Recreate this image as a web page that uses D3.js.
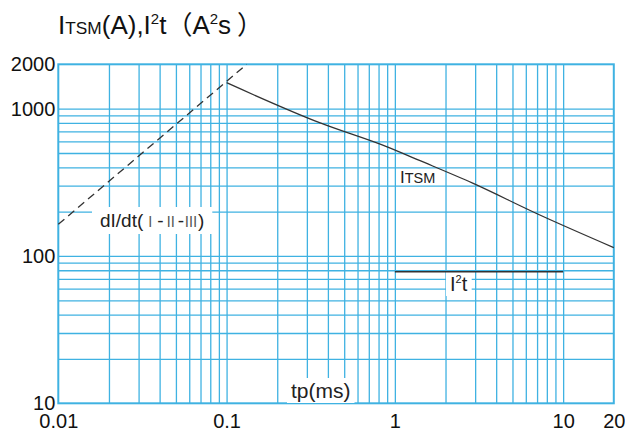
<!DOCTYPE html>
<html>
<head>
<meta charset="utf-8">
<title>ITSM / I2t vs tp</title>
<script src="https://d3js.org/d3.v7.min.js"></script>
<style>
body { margin: 0; background: #fff; }
svg { display: block; font-family: "Liberation Sans", Arial, sans-serif; }
.grid line { stroke: #3fb2e2; stroke-width: 1.3; }
.grid path { display: none; }
.tick-lbl text { fill: #111; font-size: 20px; }
.tick-lbl path { display: none; }
</style>
</head>
<body>
<div id="container"></div>
<script>

//--------------------------- DATA ------------------------------//
var xTicks = [0.01, 0.1, 1, 10, 20];
var yTicks = [10, 100, 1000, 2000];
var xGrid = [0.02, 0.03, 0.04, 0.05, 0.06, 0.07, 0.08, 0.09, 0.1,
             0.2, 0.3, 0.4, 0.5, 0.6, 0.7, 0.8, 0.9, 1,
             2, 3, 4, 5, 6, 7, 8, 9, 10];
var yGrid = [20, 30, 40, 50, 60, 70, 80, 90, 100,
             200, 300, 400, 500, 600, 700, 800, 900, 1000];

// ITSM (A) against tp (ms)
var itsmT = [0.1, 0.36, 0.9, 1.4, 2.9, 6.9, 20];
var itsmA = [1500, 800, 550, 445, 312, 195, 114];
// dI/dt limit (dashed)
var didtT = [0.01, 0.1316];
var didtA = [164, 2000];
// I2t (A2s)
var i2tT = [1, 10];
var i2tA = [78, 78];

//------------------------- SCALES ------------------------------//
var W = 625, H = 430;
var pLeft = 58.3, pRight = 613.8, pTop = 64.3, pBottom = 403.3;

var x = d3.scaleLog().domain([0.01, 20]).range([pLeft, pRight]);
var y = d3.scaleLog().domain([10, 2000]).range([pBottom, pTop]);

var svg = d3.select("#container").append("svg")
    .attr("width", W)
    .attr("height", H);

//-------------------------- GRID -------------------------------//
svg.append("g")
    .attr("class", "grid")
    .attr("transform", "translate(0," + pBottom + ")")
    .call(d3.axisBottom(x).tickValues(xGrid).tickSize(-(pBottom - pTop)).tickFormat(""));

svg.append("g")
    .attr("class", "grid")
    .attr("transform", "translate(" + pLeft + ",0)")
    .call(d3.axisLeft(y).tickValues(yGrid).tickSize(-(pRight - pLeft)).tickFormat(""));

// frame
svg.append("rect")
    .attr("x", x(0.01)).attr("y", y(2000))
    .attr("width", x(20) - x(0.01)).attr("height", y(10) - y(2000))
    .attr("fill", "none")
    .attr("stroke", "#3fb2e2")
    .attr("stroke-width", 2);

//-------------------------- AXES -------------------------------//
var fmt = function(d) { return String(d); };

svg.append("g")
    .attr("class", "tick-lbl")
    .attr("transform", "translate(0," + pBottom + ")")
    .call(d3.axisBottom(x).tickValues(xTicks).tickSize(0).tickPadding(11).tickFormat(fmt));

svg.append("g")
    .attr("class", "tick-lbl")
    .attr("transform", "translate(" + pLeft + ",0)")
    .call(d3.axisLeft(y).tickValues(yTicks).tickSize(0).tickPadding(3).tickFormat(fmt));

svg.selectAll(".tick-lbl").attr("font-family", null).attr("font-size", null);

//------------------------- LABELS ------------------------------//
var labels = svg.append("g");

function boxed(txt, pad) {
    var b = txt.node().getBBox();
    labels.insert("rect", function() { return txt.node(); })
        .attr("x", b.x - pad[0]).attr("y", b.y - pad[1])
        .attr("width", b.width + pad[0] * 2).attr("height", b.height + pad[1] * 2)
        .attr("fill", "#fff");
}

// dI/dt label
var t1 = labels.append("text")
    .attr("x", 100).attr("y", 227)
    .attr("font-size", 19).attr("fill", "#222");
t1.append("tspan").text("dI/dt(");
t1.append("tspan").attr("font-family", "Noto Sans CJK SC").attr("font-size", 14).attr("fill", "#555").text("Ⅰ");
t1.append("tspan").text("-");
t1.append("tspan").attr("font-family", "Noto Sans CJK SC").attr("font-size", 14).attr("fill", "#555").text("Ⅱ");
t1.append("tspan").text("-");
t1.append("tspan").attr("font-family", "Noto Sans CJK SC").attr("font-size", 14).attr("fill", "#555").text("Ⅲ");
t1.append("tspan").text(")");
boxed(t1, [8, 3]);

// tp(ms)
var t2 = labels.append("text")
    .attr("x", 291).attr("y", 398)
    .attr("font-size", 21).attr("fill", "#222")
    .text("tp(ms)");
boxed(t2, [4, 1]);

// I2t
var t3 = labels.append("text")
    .attr("x", 450).attr("y", 291)
    .attr("font-size", 20).attr("fill", "#222");
t3.append("tspan").text("I");
t3.append("tspan").attr("font-size", 11).attr("dy", -8).text("2");
t3.append("tspan").attr("dy", 8).text("t");
boxed(t3, [4, 1]);

// ITSM
var t4 = labels.append("text")
    .attr("x", 400).attr("y", 183)
    .attr("font-size", 17).attr("fill", "#222");
t4.append("tspan").text("I");
t4.append("tspan").attr("font-size", 14.5).text("TSM");

//------------------------- CURVES ------------------------------//
var line = d3.line()
    .curve(d3.curveMonotoneX)
    .x(function(d) { return x(d[0]); })
    .y(function(d) { return y(d[1]); });

svg.append("path")
    .datum(d3.zip(itsmT, itsmA))
    .attr("d", line)
    .attr("fill", "none")
    .attr("stroke", "#333")
    .attr("stroke-width", 1.3);

svg.append("path")
    .datum(d3.zip(didtT, didtA))
    .attr("d", line)
    .attr("fill", "none")
    .attr("stroke", "#333")
    .attr("stroke-width", 1.3)
    .attr("stroke-dasharray", "8,5");

svg.append("path")
    .datum(d3.zip(i2tT, i2tA))
    .attr("d", line)
    .attr("fill", "none")
    .attr("stroke", "#333")
    .attr("stroke-width", 1.5);

//-------------------------- TITLE ------------------------------//
var title = svg.append("text")
    .attr("x", 58).attr("y", 34)
    .attr("font-size", 26).attr("fill", "#111");
title.append("tspan").text("I");
title.append("tspan").attr("font-size", 17.3).text("TSM");
title.append("tspan").text("(A),I");
title.append("tspan").attr("font-size", 15).attr("dy", -10).text("2");
title.append("tspan").attr("dy", 10).text("t");
title.append("tspan").attr("font-family", "Noto Sans CJK SC").text("（");
title.append("tspan").text("A");
title.append("tspan").attr("font-size", 15).attr("dy", -10).text("2");
title.append("tspan").attr("dy", 10).text("s");
title.append("tspan").attr("font-family", "Noto Sans CJK SC").attr("dx", 6).text("）");

</script>
</body>
</html>
